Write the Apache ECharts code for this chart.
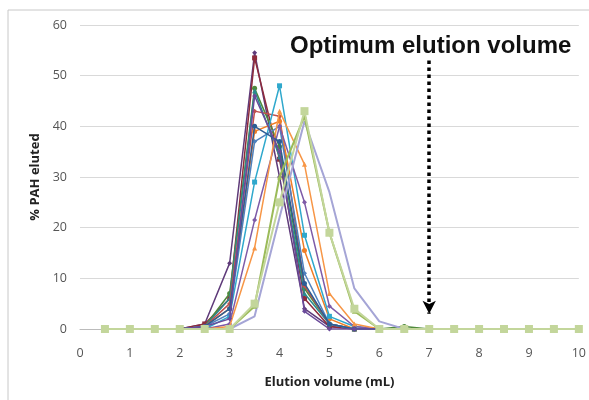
<!DOCTYPE html>
<html>
<head>
<meta charset="utf-8">
<script src="https://cdn.jsdelivr.net/npm/echarts@6/dist/echarts.min.js"></script>
<style>
  html, body { margin: 0; padding: 0; background: #fff; }
  #chart { width: 589px; height: 400px; }
</style>
</head>
<body>
<div id="chart"></div>
<script>
  // elution volumes (mL), one point every 0.5 mL
  var volumes = [0.5, 1, 1.5, 2, 2.5, 3, 3.5, 4, 4.5, 5, 5.5, 6, 6.5, 7, 7.5, 8, 8.5, 9, 9.5, 10];

  // % PAH eluted per fraction, one array per compound
  var pah1  = [0, 0, 0, 0, 1.0, 13, 54.5, 30, 4, 0.5, 0, 0, 0, 0, 0, 0, 0, 0, 0, 0];
  var pah2  = [0, 0, 0, 0, 1.0, 6, 53.5, 33.5, 6, 0.5, 0, 0, 0, 0, 0, 0, 0, 0, 0, 0];
  var pah3  = [0, 0, 0, 0, 0.5, 7, 47.5, 36, 8, 1, 0, 0, 0.5, 0, 0, 0, 0, 0, 0, 0];
  var pah4  = [0, 0, 0, 0, 0.5, 6, 47, 34, 7, 1, 0, 0, 0, 0, 0, 0, 0, 0, 0, 0];
  var pah5  = [0, 0, 0, 0, 0.5, 5, 43, 42, 8.5, 1, 0, 0, 0, 0, 0, 0, 0, 0, 0, 0];
  var pah6  = [0, 0, 0, 0, 0.5, 4, 39, 41, 15.5, 2, 0, 0, 0, 0, 0, 0, 0, 0, 0, 0];
  var pah7  = [0, 0, 0, 0, 0, 2.5, 29, 48, 18.5, 2.5, 0.5, 0, 0, 0, 0, 0, 0, 0, 0, 0];
  var pah8  = [0, 0, 0, 0, 0.5, 3, 37, 40, 11, 1, 0, 0, 0, 0, 0, 0, 0, 0, 0, 0];
  var pah9  = [0, 0, 0, 0, 0, 1, 21.5, 40, 25, 4.5, 0.5, 0, 0, 0, 0, 0, 0, 0, 0, 0];
  var pah10 = [0, 0, 0, 0, 0, 0.5, 16, 43, 32.5, 7, 1, 0, 0, 0, 0, 0, 0, 0, 0, 0];
  var pah11 = [0, 0, 0, 0, 0.5, 4, 40, 37, 9, 1, 0, 0, 0, 0, 0, 0, 0, 0, 0, 0];
  var pah12 = [0, 0, 0, 0, 0.5, 2, 46, 35, 3.5, 0, 0, 0, 0, 0, 0, 0, 0, 0, 0, 0];
  var pah13 = [0, 0, 0, 0, 0, 0, 2.5, 22, 41, 27, 8, 1.5, 0, 0, 0, 0, 0, 0, 0, 0];
  var pah14 = [0, 0, 0, 0, 0, 0, 4.5, 30, 42, 19, 3.5, 0, 0, 0, 0, 0, 0, 0, 0, 0];
  var pah15 = [0, 0, 0, 0, 0, 0, 5, 25, 43, 19, 4, 0, 0, 0, 0, 0, 0, 0, 0, 0];

  var seriesValues = [pah1, pah2, pah3, pah4, pah5, pah6, pah7, pah8, pah9, pah10, pah11, pah12, pah13, pah14, pah15];

  var xTicks = [0, 1, 2, 3, 4, 5, 6, 7, 8, 9, 10];
  var yTicks = [0, 10, 20, 30, 40, 50, 60];

  // arrow marking the optimum elution volume
  var optimumVolume = 7;
  var arrowFrom = 53;
  var arrowTo = 3;

  var colors = ['#5F3B7A', '#8E2C3C', '#4F8A3C', '#2A8A8F', '#C0504D', '#F07E26', '#2FA8CC',
                '#4F81BD', '#7E5BA8', '#F79646', '#2C5D95', '#6A4A9A', '#A5A5D6', '#9BBB59', '#C3D69B'];
  var symbols = ['diamond', 'rect', 'circle', 'triangle', 'diamond', 'circle', 'rect',
                 'diamond', 'diamond', 'triangle', 'circle', 'diamond', 'none', 'triangle', 'rect'];

  var series = seriesValues.map(function (vals, i) {
    return {
      name: 'PAH ' + (i + 1),
      type: 'line',
      data: volumes.map(function (v, j) { return [v, vals[j]]; }),
      symbol: symbols[i],
      symbolSize: i === 14 ? 8 : 5,
      showSymbol: symbols[i] !== 'none',
      lineStyle: { width: i >= 12 ? 2 : 1.5, color: colors[i] },
      itemStyle: { color: colors[i] },
      z: 2 + i
    };
  });

  series.push({
    type: 'line',
    data: [],
    markLine: {
      silent: true,
      symbol: ['none', 'arrow'],
      symbolSize: [10, 13],
      label: { show: false },
      lineStyle: { color: '#000', type: 'dotted', width: 3.5 },
      data: [[{ coord: [optimumVolume, arrowFrom] }, { coord: [optimumVolume, arrowTo] }]]
    },
    z: 30
  });

  var chart = echarts.init(document.getElementById('chart'));
  chart.setOption({
    animation: false,
    grid: { left: 80, right: 4, top: 25, bottom: 71 },
    xAxis: {
      type: 'value',
      min: xTicks[0],
      max: xTicks[xTicks.length - 1],
      interval: 1,
      name: 'Elution volume (mL)',
      nameLocation: 'middle',
      nameGap: 47,
      nameTextStyle: { fontFamily: 'Open Sans', fontWeight: 'bold', fontSize: 13, color: '#222' },
      axisLine: { lineStyle: { color: '#bbb', width: 1 } },
      axisTick: { show: false },
      splitLine: { show: false },
      axisLabel: { color: '#555', fontSize: 12.5, fontFamily: 'Open Sans', margin: 18 }
    },
    yAxis: {
      type: 'value',
      min: yTicks[0],
      max: yTicks[yTicks.length - 1],
      interval: 10,
      name: '% PAH eluted',
      nameLocation: 'middle',
      nameGap: 37,
      nameTextStyle: { fontFamily: 'Open Sans', fontWeight: 'bold', fontSize: 13, color: '#222' },
      axisLine: { show: false },
      axisTick: { show: false },
      splitLine: { lineStyle: { color: '#d9d9d9', width: 1 } },
      axisLabel: { color: '#555', fontSize: 12.5, fontFamily: 'Open Sans', margin: 13 }
    },
    graphic: [
      {
        type: 'rect', silent: true,
        shape: { x: 8, y: 10, width: 620, height: 420 },
        style: { fill: 'none', stroke: '#c8c8c8', lineWidth: 1 }
      },
      {
        type: 'text', left: 290, top: 34, z: 40,
        style: { text: 'Optimum elution volume', font: 'bold 24px "Liberation Sans", Arial', fill: '#111' }
      }
    ],
    series: series
  });
</script>
</body>
</html>
